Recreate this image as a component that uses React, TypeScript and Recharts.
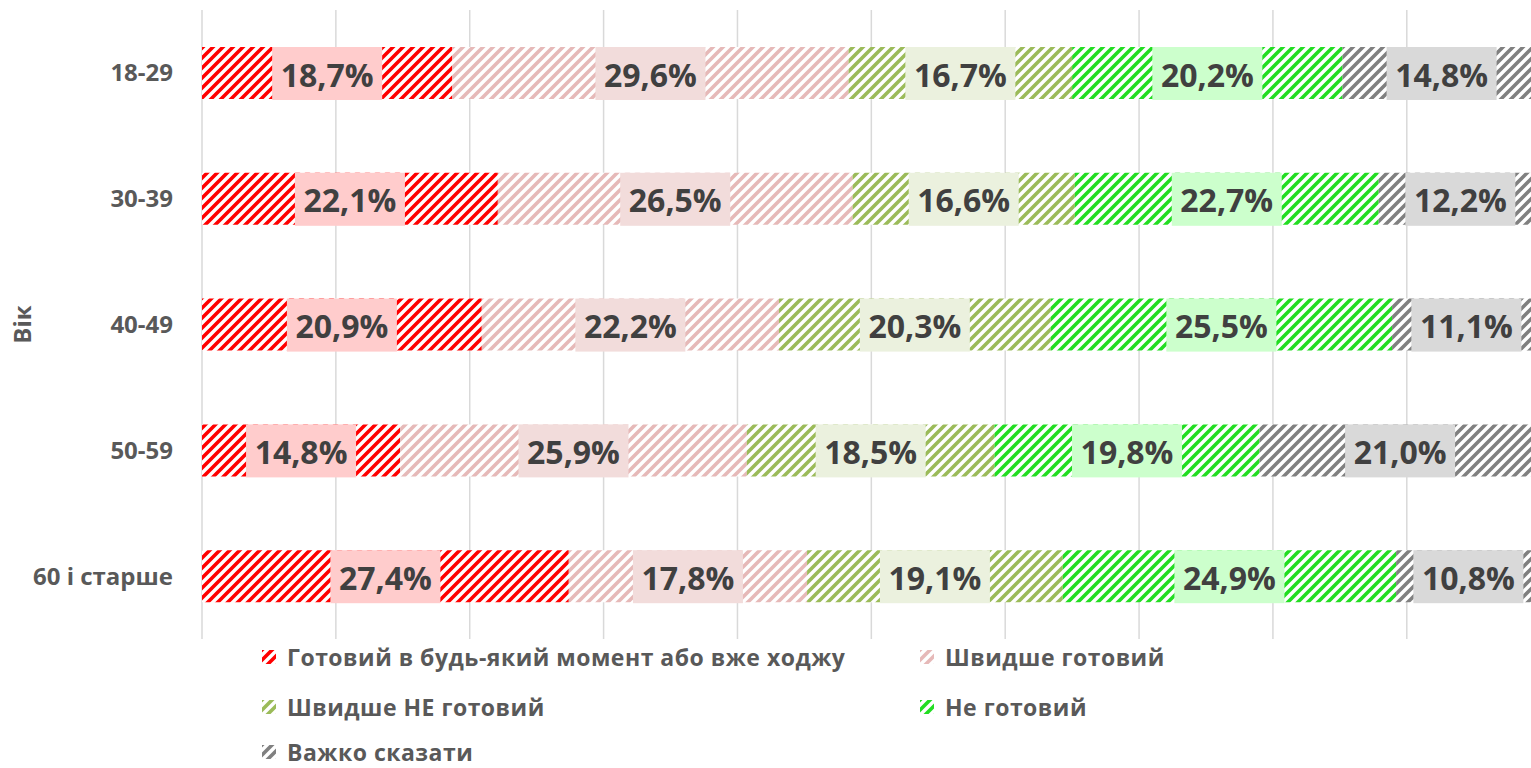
import { BarChart, Bar, XAxis, YAxis, CartesianGrid, Legend, LabelList } from 'recharts';

const categories = ['18-29', '30-39', '40-49', '50-59', '60 і старше'];
const seriesNames = [
  'Готовий в будь-який момент або вже ходжу',
  'Швидше готовий',
  'Швидше НЕ готовий',
  'Не готовий',
  'Важко сказати',
];
const ready = [18.7, 22.1, 20.9, 14.8, 27.4];
const ratherReady = [29.6, 26.5, 22.2, 25.9, 17.8];
const ratherNotReady = [16.7, 16.6, 20.3, 18.5, 19.1];
const notReady = [20.2, 22.7, 25.5, 19.8, 24.9];
const hardToSay = [14.8, 12.2, 11.1, 21.0, 10.8];
const xTicks = [0, 10, 20, 30, 40, 50, 60, 70, 80, 90, 100];

const seriesValues = [ready, ratherReady, ratherNotReady, notReady, hardToSay];
const keys = ['s0', 's1', 's2', 's3', 's4'];
const stripeColors = ['#ff0000', '#e6b9b8', '#9bbb59', '#22dd22', '#808080'];
const boxColors = ['#ffcccc', '#f2dcdb', '#ebf1de', '#ccffcc', '#d9d9d9'];

const data = categories.map((name, i) => {
  const row: any = { name };
  keys.forEach((k, j) => (row[k] = seriesValues[j][i]));
  return row;
});

const fmt = (v: number) => `${v.toFixed(1).replace('.', ',')}%`;

const makeLabel = (idx: number) => (props: any) => {
  const { x, y, width, height, value } = props;
  const cx = x + width / 2;
  const cy = y + height / 2;
  const bw = 110;
  return (
    <g>
      <rect x={cx - bw / 2} y={y} width={bw} height={height + 1} fill={boxColors[idx]} />
      <text
        x={cx}
        y={cy + 1}
        textAnchor="middle"
        dominantBaseline="central"
        fill="#404040"
        fontSize={32}
        fontWeight={700}
        fontFamily="'Open Sans', sans-serif"
      >
        {fmt(Number(value))}
      </text>
    </g>
  );
};

// legend slots: [left, centre y] inside the legend box
const legendPos = [
  [262, 18],
  [920, 18],
  [262, 68],
  [920, 68],
  [262, 113],
];

const renderLegend = () => (
  <div style={{ position: 'relative', width: 1542, height: 129 }}>
    {seriesNames.map((n, i) => (
      <div
        key={n}
        style={{
          position: 'absolute',
          left: legendPos[i][0],
          top: legendPos[i][1] - 12,
          height: 24,
          display: 'flex',
          alignItems: 'center',
          gap: 11,
          whiteSpace: 'nowrap',
        }}
      >
        <svg width={14} height={14}>
          <rect width={14} height={14} fill={`url(#hatch${i})`} />
        </svg>
        <span
          style={{
            fontFamily: "'Open Sans', sans-serif",
            fontWeight: 700,
            fontSize: 23,
            letterSpacing: 0.5,
            lineHeight: '24px',
            color: '#595959',
          }}
        >
          {n}
        </span>
      </div>
    ))}
  </div>
);

export default function App() {
  return (
    <div style={{ position: 'absolute', left: 0, top: 0, width: 1531, height: 768, overflow: 'hidden', background: '#fff' }}>
      <BarChart
        width={1560}
        height={768}
        data={data}
        layout="vertical"
        margin={{ top: 10, right: 18, left: 0, bottom: 0 }}
      >
        <defs>
          {stripeColors.map((c, i) => (
            <pattern key={c} id={`hatch${i}`} width={10} height={10} patternUnits="userSpaceOnUse">
              <rect width={10} height={10} fill="#fff" />
              <path d="M-2,2 L2,-2 M0,10 L10,0 M8,12 L12,8" stroke={c} strokeWidth={3.6} />
            </pattern>
          ))}
        </defs>
        <CartesianGrid horizontal={false} stroke="#d9d9d9" strokeWidth={1.5} />
        <XAxis type="number" domain={[0, 100]} ticks={xTicks} hide />
        <YAxis
          type="category"
          dataKey="name"
          width={202}
          axisLine={false}
          tickLine={false}
          tickSize={0}
          tickMargin={29}
          tick={{ fill: '#595959', fontSize: 24, fontWeight: 700, fontFamily: "'Open Sans', sans-serif" }}
          label={{
            value: 'Вік',
            angle: -90,
            position: 'insideLeft',
            offset: 22,
            textAnchor: 'middle',
            fill: '#595959',
            fontSize: 24,
            fontWeight: 700,
            fontFamily: "'Open Sans', sans-serif",
            style: { textAnchor: 'middle' },
          }}
        />
        <Legend verticalAlign="bottom" content={renderLegend} wrapperStyle={{ left: 0, bottom: 0 }} />
        {keys.map((k, i) => (
          <Bar key={k} dataKey={k} name={seriesNames[i]} stackId="a" barSize={52} fill={`url(#hatch${i})`} isAnimationActive={false}>
            <LabelList dataKey={k} content={makeLabel(i)} />
          </Bar>
        ))}
      </BarChart>
    </div>
  );
}
